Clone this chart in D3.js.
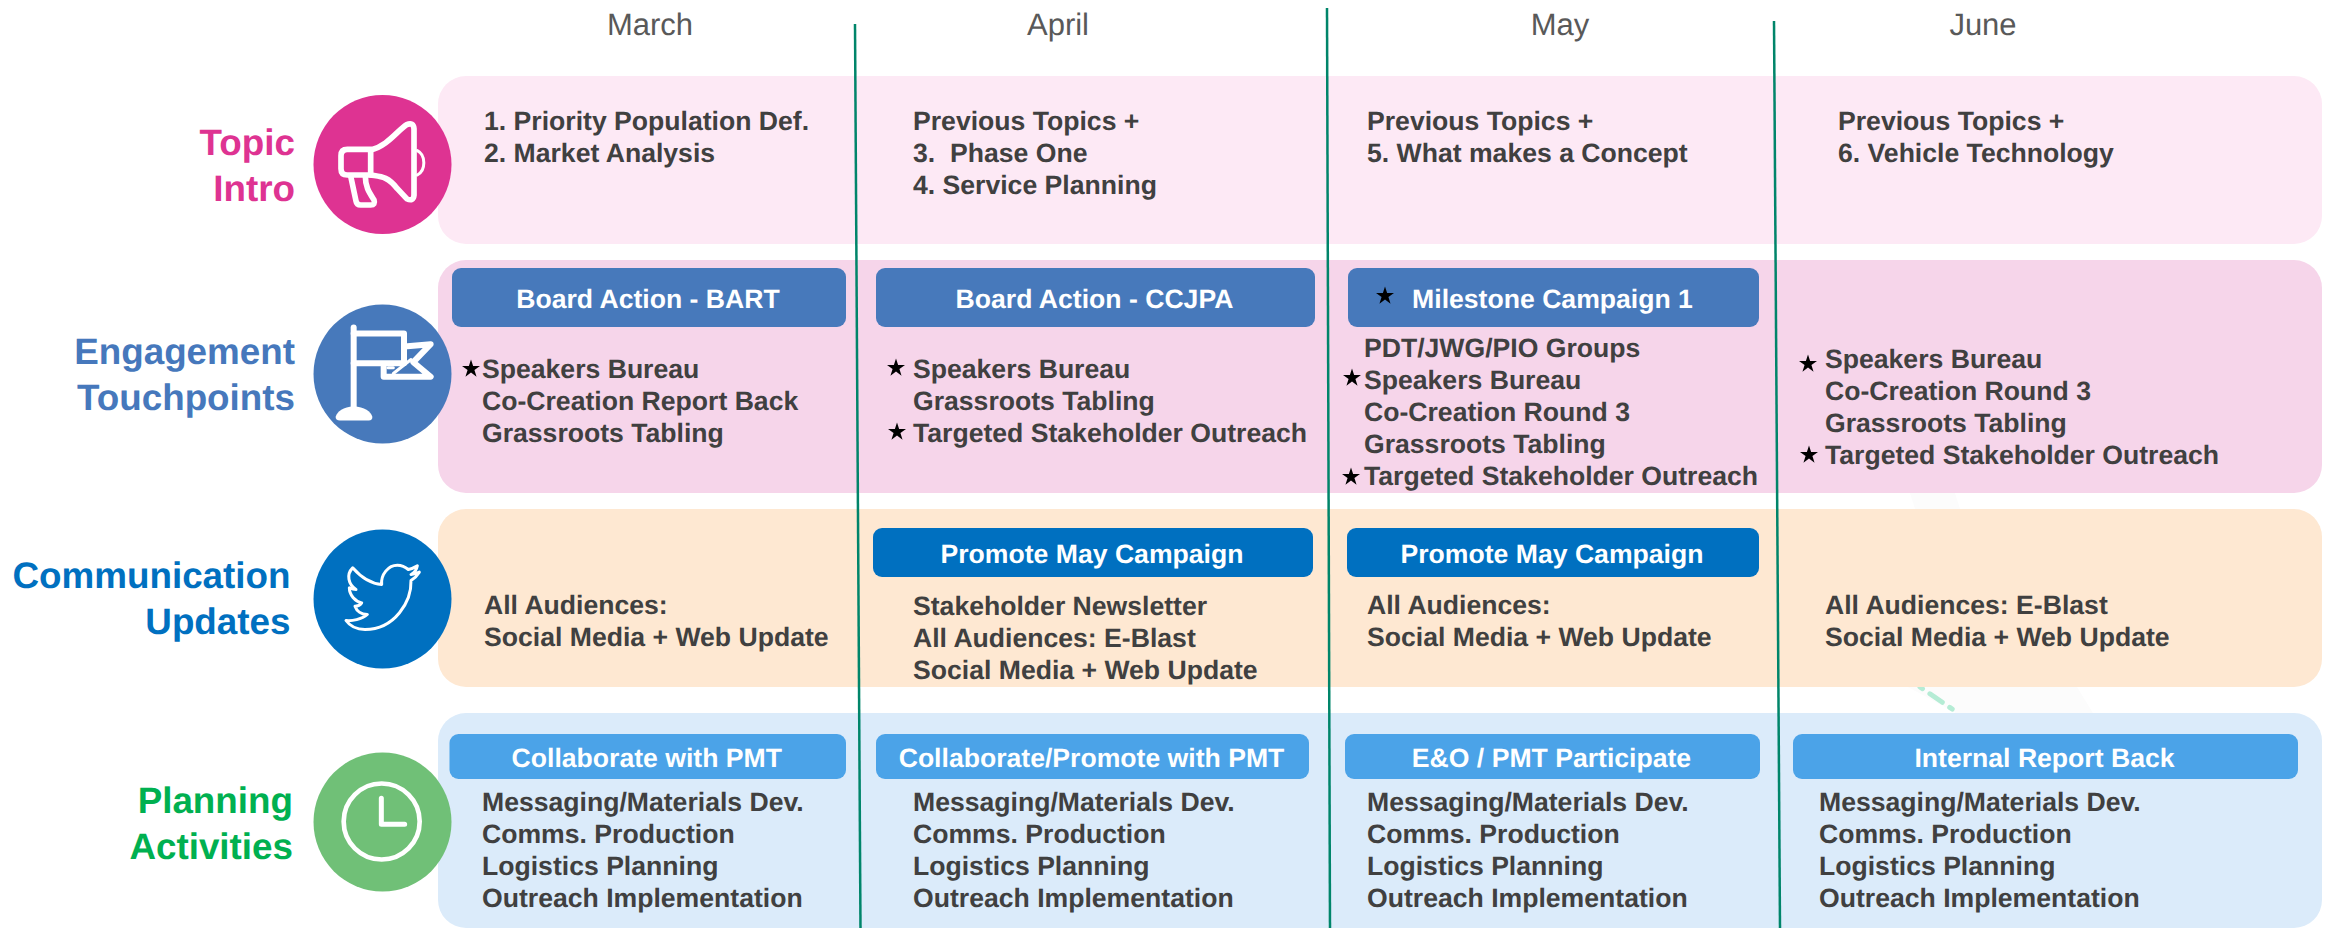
<!DOCTYPE html>
<html lang="en">
<head>
<meta charset="UTF-8">
<title>Engagement Timeline</title>
<style>
    html, body { margin: 0; padding: 0; background: #fff; }
    svg { display: block; font-family: "Liberation Sans", Arial, sans-serif; text-rendering: geometricPrecision; }
</style>
</head>
<body>
<svg width="2326" height="928"></svg>
<script src="https://cdn.jsdelivr.net/npm/d3@7"></script>
<script>
// --- content
const months = ["March", "April", "May", "June"];
const rowKeys = ["topic", "engagement", "communication", "planning"];
const rowLabels = [["Topic", "Intro"], ["Engagement", "Touchpoints"], ["Communication", "Updates"], ["Planning", "Activities"]];

const topicLines = [
    ["1. Priority Population Def.", "2. Market Analysis"],
    ["Previous Topics +", "3.\u00a0\u00a0Phase One", "4. Service Planning"],
    ["Previous Topics +", "5. What makes a Concept"],
    ["Previous Topics +", "6. Vehicle Technology"]
];
const engagementLines = [
    ["Speakers Bureau", "Co-Creation Report Back", "Grassroots Tabling"],
    ["Speakers Bureau", "Grassroots Tabling", "Targeted Stakeholder Outreach"],
    ["PDT/JWG/PIO Groups", "Speakers Bureau", "Co-Creation Round 3", "Grassroots Tabling", "Targeted Stakeholder Outreach"],
    ["Speakers Bureau", "Co-Creation Round 3", "Grassroots Tabling", "Targeted Stakeholder Outreach"]
];
const communicationLines = [
    ["All Audiences:", "Social Media + Web Update"],
    ["Stakeholder Newsletter", "All Audiences: E-Blast", "Social Media + Web Update"],
    ["All Audiences:", "Social Media + Web Update"],
    ["All Audiences: E-Blast", "Social Media + Web Update"]
];
const planningItems = ["Messaging/Materials Dev.", "Comms. Production", "Logistics Planning", "Outreach Implementation"];
const planningLines = [planningItems, planningItems, planningItems, planningItems];

const engagementPills = ["Board Action - BART", "Board Action - CCJPA", "Milestone Campaign 1", null];
const communicationPills = [null, "Promote May Campaign", "Promote May Campaign", null];
const planningPills = ["Collaborate with PMT", "Collaborate/Promote with PMT", "E&O / PMT Participate", "Internal Report Back"];

// which engagement lines carry a star, per month
const starredLines = [[0], [0, 2], [1, 4], [0, 3]];

const linesByRow = [topicLines, engagementLines, communicationLines, planningLines];
const pillsByRow = [null, engagementPills, communicationPills, planningPills];

// --- colours
const panelColor = d3.scaleOrdinal(rowKeys, ["#fde9f5", "#f6d5ea", "#fee8d2", "#dbebfa"]);
const circleColor = d3.scaleOrdinal(rowKeys, ["#de3392", "#4779bb", "#0070c0", "#70c077"]);
const labelColor = d3.scaleOrdinal(rowKeys, ["#de3392", "#4678bc", "#0070c0", "#00b050"]);
const pillColor = d3.scaleOrdinal(rowKeys, ["none", "#4779bb", "#0070c0", "#4ba3e8"]);
const textColor = "#404040";

// --- layout
const panelTop = d3.scaleOrdinal(rowKeys, [76, 260, 509, 713]);
const panelBottom = d3.scaleOrdinal(rowKeys, [244, 493, 687, 928]);
const circleY = d3.scaleOrdinal(rowKeys, [164.5, 374, 599, 822]);
const labelX = d3.scaleOrdinal(rowKeys, [295, 295, 290.5, 293]);
const labelBase = d3.scaleOrdinal(rowKeys, [155, 364, 588, 813]);
const monthX = d3.scaleOrdinal(months, [650, 1058, 1560, 1983]);

const textX = d3.scaleOrdinal(rowKeys, [[484, 913, 1367, 1838], [482, 913, 1364, 1825], [484, 913, 1367, 1825], [482, 913, 1367, 1819]]);
const textBase = d3.scaleOrdinal(rowKeys, [[129.5, 129.5, 129.5, 129.5], [378, 378, 357, 368], [614, 615, 614, 614], [811, 811, 811, 811]]);
const pillTop = d3.scaleOrdinal(rowKeys, [0, 268, 528, 734]);
const pillBottom = d3.scaleOrdinal(rowKeys, [0, 327, 577, 779]);
const pillLeft = d3.scaleOrdinal(rowKeys, [[], [452, 876, 1348, 0], [0, 873, 1347, 0], [449.5, 876, 1345, 1793]]);
const pillRight = d3.scaleOrdinal(rowKeys, [[], [846, 1315, 1759, 0], [0, 1313, 1759, 0], [846, 1309, 1760, 2298]]);
const pillBase = d3.scaleOrdinal(rowKeys, [0, 308, 563, 767]);

const lineStep = 32;
const starGap = d3.scaleOrdinal(months, [[11], [17, 0, 16], [0, 12, 0, 0, 13], [17, 0, 0, 16]]);
const starLift = d3.scaleOrdinal(months, [[9], [10, 0, 10], [0, 11, 0, 0, 8], [4, 0, 0, 9]]);

// dividers run very slightly off vertical in the original
const dividerTop = [[855, 24], [1327, 8], [1774, 21]];
const dividerBottom = [[860.5, 928], [1330, 928], [1780, 928]];

const svg = d3.select("svg");
const star = d3.symbol().type(d3.symbolStar).size(100);

// faint leftover from the source slide, sits behind the panels
svg.append("path")
    .attr("d", "M1908,687 L2077,687 L2093,713 L1956,713 Z M1910,493 L1955,493 L1960,509 L1915,509 Z")
    .attr("fill", "#fcfcfc");
svg.append("line")
    .attr("x1", 1920).attr("y1", 687).attr("x2", 1958).attr("y2", 713)
    .attr("stroke", "#b5ecd5").attr("stroke-width", 5).attr("stroke-linecap", "round")
    .attr("stroke-dasharray", "3 9 15 9 3 20");

// month headings
svg.append("g").selectAll("text")
    .data(months)
    .join("text")
    .attr("x", d => monthX(d))
    .attr("y", 35)
    .attr("text-anchor", "middle")
    .attr("font-size", 31)
    .attr("fill", "#595959")
    .text(d => d);

// panels
svg.append("g").selectAll("rect")
    .data(rowKeys)
    .join("rect")
    .attr("x", 438)
    .attr("width", 1884)
    .attr("y", d => panelTop(d))
    .attr("height", d => panelBottom(d) - panelTop(d))
    .attr("rx", 28)
    .attr("fill", d => panelColor(d));

// row labels
const labels = svg.append("g").selectAll("g")
    .data(rowKeys)
    .join("g");
labels.selectAll("text")
    .data((d, i) => rowLabels[i].map((t, j) => ({key: d, t, j})))
    .join("text")
    .attr("x", d => labelX(d.key))
    .attr("y", d => labelBase(d.key) + d.j * 45.5)
    .attr("text-anchor", "end")
    .attr("font-size", 36.8)
    .attr("font-weight", "bold")
    .attr("fill", d => labelColor(d.key))
    .text(d => d.t);

// circles, the icons go on top
svg.append("g").selectAll("ellipse")
    .data(rowKeys)
    .join("ellipse")
    .attr("cx", 382.5)
    .attr("cy", d => circleY(d))
    .attr("rx", 69)
    .attr("ry", 69.5)
    .attr("fill", d => circleColor(d));

// icon paths are drawn in a 450 box around each circle (3x the pixels)
const icon = key => svg.append("g")
    .attr("transform", `translate(${382.5 - 72.5},${circleY(key) - 74.5}) scale(${1 / 3})`)
    .attr("fill", "none")
    .attr("stroke", "#fff")
    .attr("stroke-linecap", "round")
    .attr("stroke-linejoin", "round");

const megaphone = icon("topic").attr("stroke-width", 17);
megaphone.append("path").attr("d", "M182,180 C232,168 262,122 290,104 Q310,96 312,116 L312,316 Q310,336 290,326 L262,296 C232,258 212,260 182,255");
megaphone.append("path").attr("d", "M182,178 L112,178 Q93,178 93,197 L93,236 Q93,255 112,255 L182,255 Z");
megaphone.append("path").attr("d", "M122,258 L138,333 Q140,345 152,345 L182,345 Q197,345 192,330 C176,305 166,290 166,258");
megaphone.append("path").attr("stroke-width", 9).attr("d", "M322,182 C348,195 348,242 322,255");

const flag = icon("engagement").attr("stroke-width", 18);
flag.append("path").attr("d", "M131,84 L131,325");
flag.append("path").attr("d", "M131,102 L282,102 L282,191 L131,191");
flag.append("path").attr("d", "M292,140 L362,134 L310,188 L362,232 L221,232 L221,202");
flag.append("path").attr("stroke-width", 9).attr("d", "M303,180 L250,222 M234,205 L250,205");
flag.append("path").attr("fill", "#fff").attr("stroke", "none")
    .attr("d", "M77,352 Q84,325 131,320 Q180,325 187,352 Q188,363 176,363 L90,363 Q76,363 77,352 Z");

icon("communication").append("path")
    .attr("stroke-width", 9)
    .attr("d", "M128,130 C150,155 180,178 215,180 C212,150 235,122 262,122 C277,122 287,128 295,135 C305,133 315,128 322,124 C320,135 314,145 303,150 C312,149 320,147 328,143 C322,153 312,162 303,168 C305,230 255,315 165,315 C140,315 120,305 108,288 C125,290 155,285 172,270 C155,270 140,260 135,245 C140,245 150,243 155,235 C135,230 118,212 118,190 C125,193 130,195 138,195 C115,180 108,150 128,130 Z");

const clock = icon("planning");
clock.append("circle").attr("cx", 215).attr("cy", 222).attr("r", 114).attr("stroke-width", 14);
clock.append("path").attr("stroke-width", 15).attr("d", "M214,152 L214,230 L284,230");

// action pills
rowKeys.forEach((key, r) => {
    if (!pillsByRow[r]) return;
    const cells = pillsByRow[r]
        .map((t, m) => ({t, m}))
        .filter(d => d.t);
    const g = svg.append("g").selectAll("g")
        .data(cells)
        .join("g");
    g.append("rect")
        .attr("x", d => pillLeft(key)[d.m])
        .attr("width", d => pillRight(key)[d.m] - pillLeft(key)[d.m])
        .attr("y", pillTop(key))
        .attr("height", pillBottom(key) - pillTop(key))
        .attr("rx", 9)
        .attr("fill", pillColor(key));
    g.append("text")
        .attr("x", d => (pillLeft(key)[d.m] + pillRight(key)[d.m]) / 2 - 1)
        .attr("y", pillBase(key))
        .attr("text-anchor", "middle")
        .attr("font-size", 26.6)
        .attr("font-weight", "bold")
        .attr("fill", "#fff")
        .text(d => d.t);
});

// star inside the milestone pill
svg.append("path")
    .attr("d", star())
    .attr("transform", `translate(1385,296)`)
    .attr("fill", "#000");

// body text
rowKeys.forEach((key, r) => {
    const cells = months.map((month, m) => ({month, m, lines: linesByRow[r][m]}));
    const col = svg.append("g").selectAll("g")
        .data(cells)
        .join("g");
    col.selectAll("text")
        .data(d => d.lines.map((t, i) => ({t, i, m: d.m})))
        .join("text")
        .attr("x", d => textX(key)[d.m])
        .attr("y", d => textBase(key)[d.m] + d.i * lineStep)
        .attr("font-size", 26.6)
        .attr("font-weight", "bold")
        .attr("fill", textColor)
        .text(d => d.t);
});

// stars beside the engagement lines
const starMarks = months.flatMap((month, m) => starredLines[m].map(line => ({month, m, line})));
svg.append("g").selectAll("path")
    .data(starMarks)
    .join("path")
    .attr("d", star())
    .attr("transform", d => {
        const x = textX("engagement")[d.m] - starGap(d.month)[d.line];
        const y = textBase("engagement")[d.m] + d.line * lineStep - starLift(d.month)[d.line];
        return `translate(${x},${y})`;
    })
    .attr("fill", "#000");

// month dividers go over everything
svg.append("g").selectAll("line")
    .data(dividerTop.map((p, i) => [p, dividerBottom[i]]))
    .join("line")
    .attr("x1", d => d[0][0])
    .attr("y1", d => d[0][1])
    .attr("x2", d => d[1][0])
    .attr("y2", d => d[1][1])
    .attr("stroke", "#00856a")
    .attr("stroke-width", 2.5);
</script>
</body>
</html>
